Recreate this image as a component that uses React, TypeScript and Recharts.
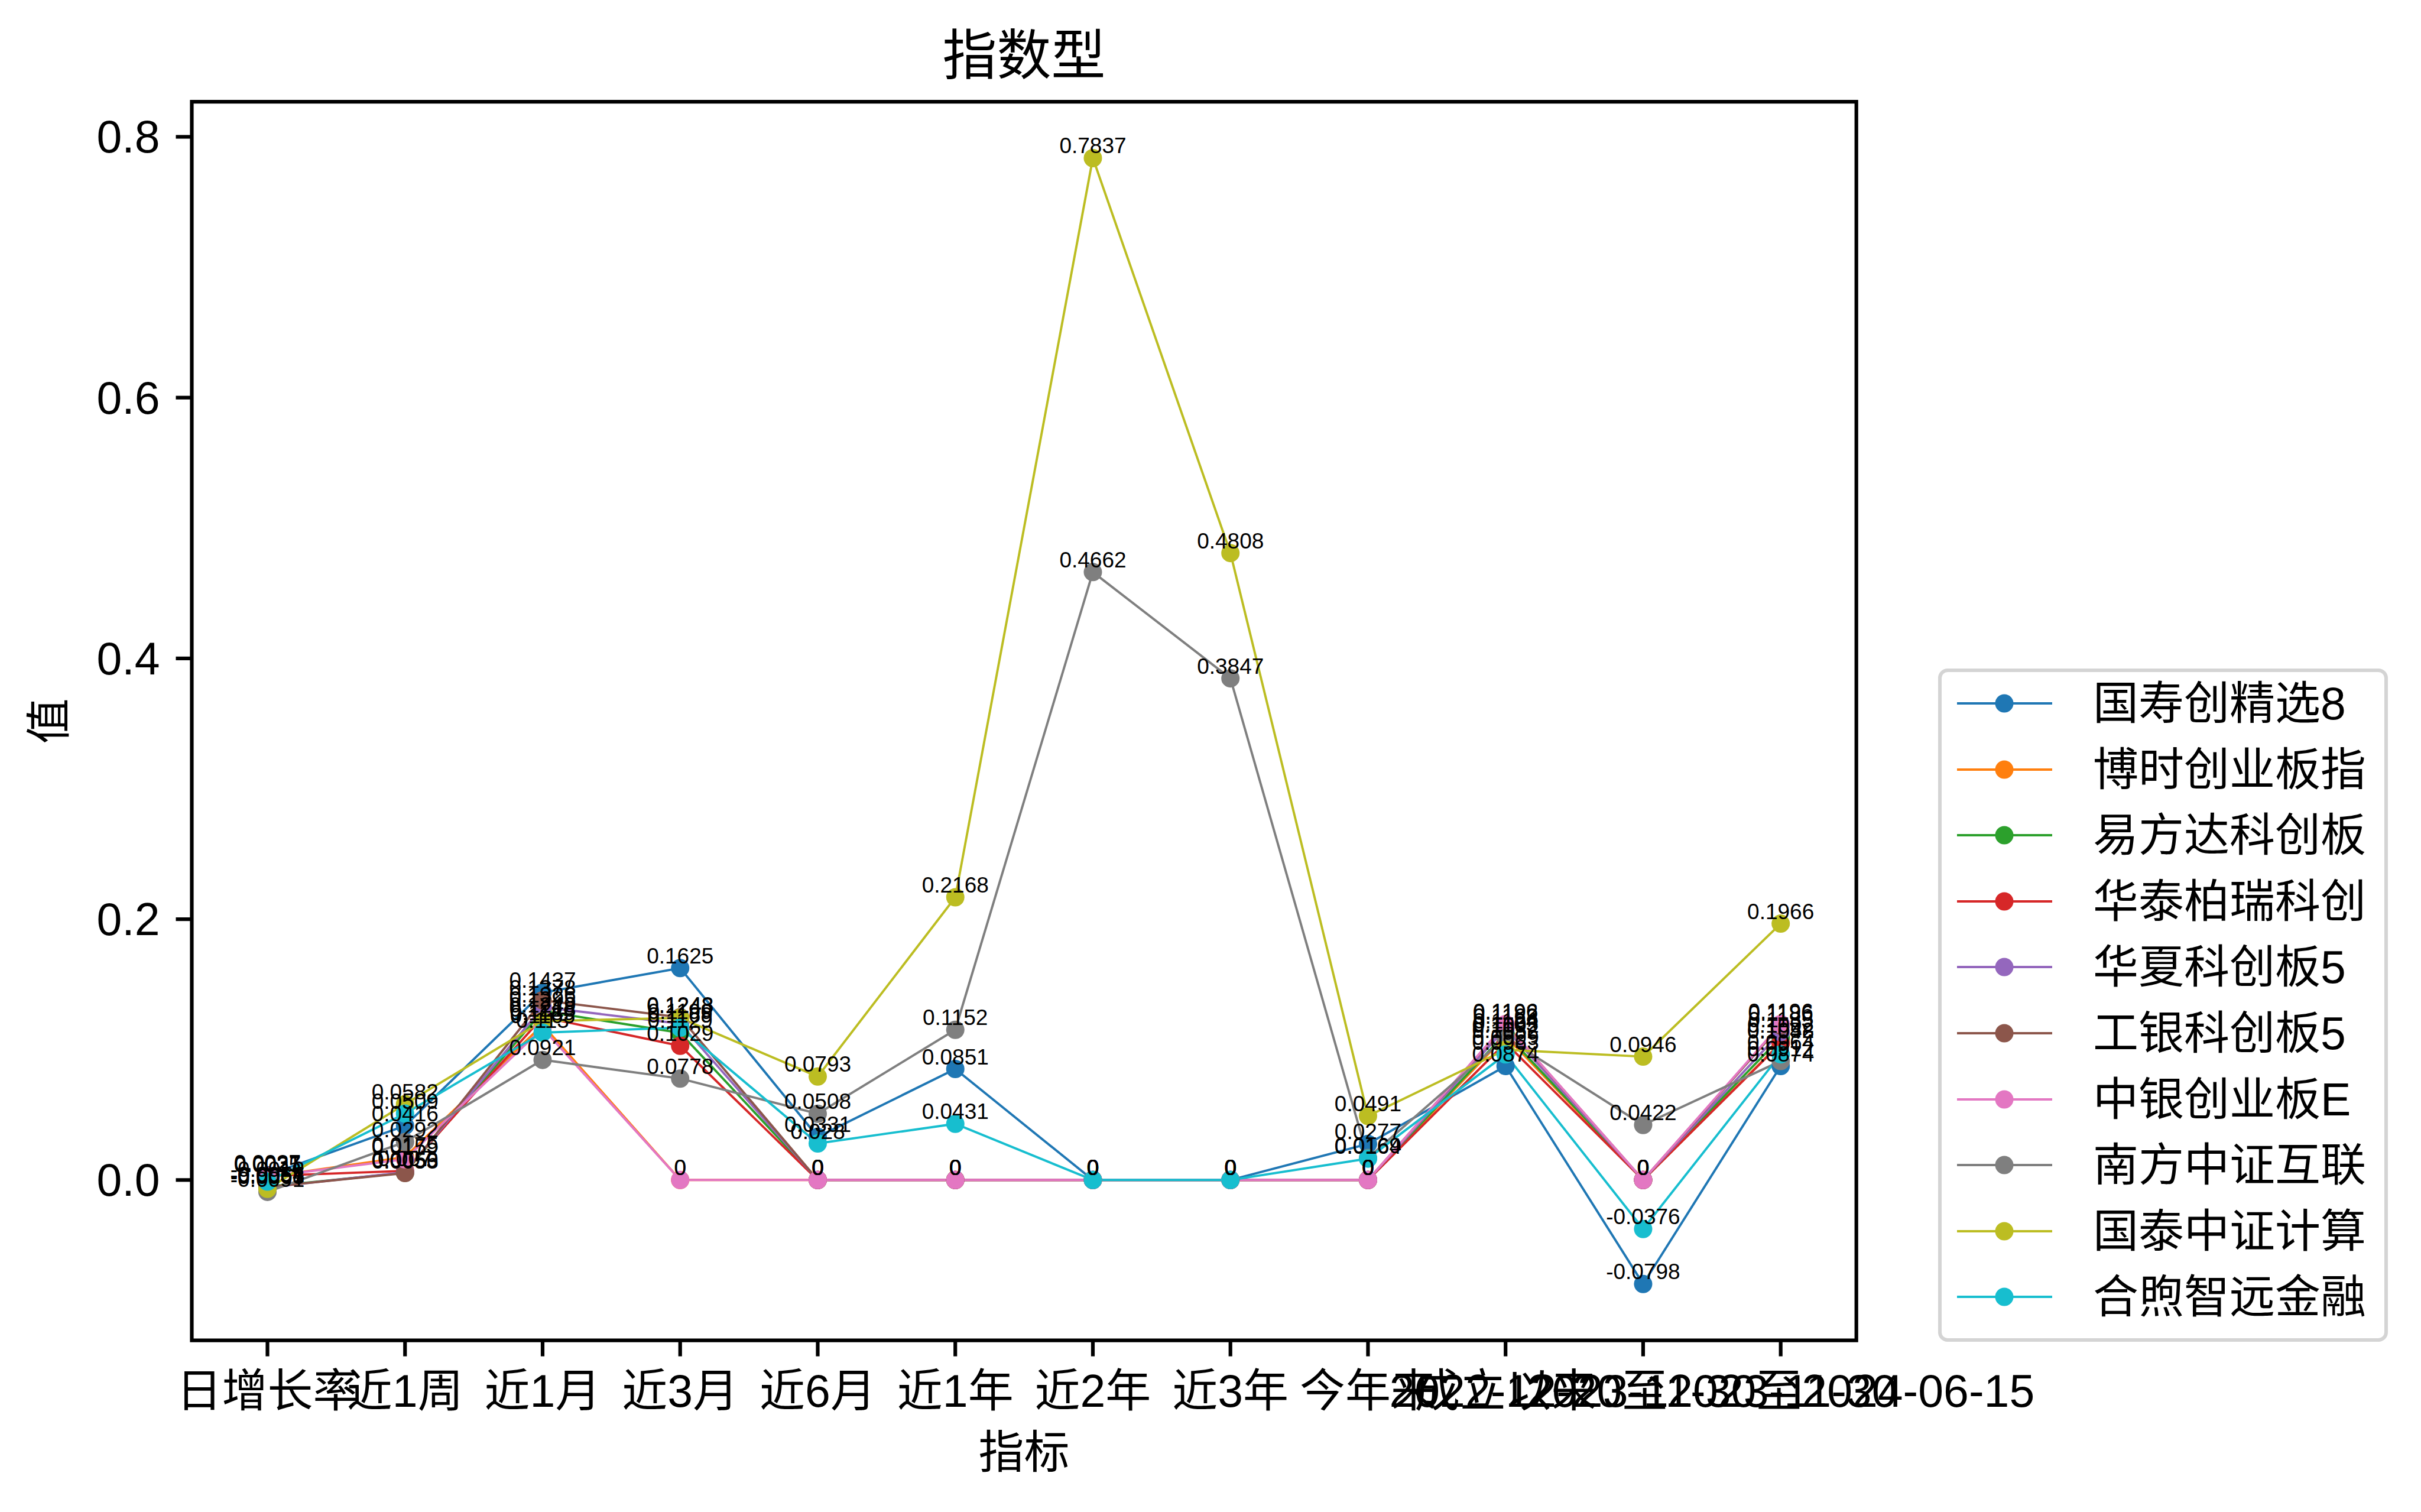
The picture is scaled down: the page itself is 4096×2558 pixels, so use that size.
import { LineChart, Line, XAxis, YAxis, Legend, LabelList, ReferenceArea } from "recharts";

const categories = [
  "日增长率",
  "近1周",
  "近1月",
  "近3月",
  "近6月",
  "近1年",
  "近2年",
  "近3年",
  "今年来",
  "成立以来",
  "2022-12-20至2023-11-30",
  "2023-11-30至2024-06-15",
];

const seriesNames = [
  "国寿创精选8",
  "博时创业板指",
  "易方达科创板",
  "华泰柏瑞科创",
  "华夏科创板5",
  "工银科创板5",
  "中银创业板E",
  "南方中证互联",
  "国泰中证计算",
  "合煦智远金融",
];

const colors = [
  "#1f77b4",
  "#ff7f0e",
  "#2ca02c",
  "#d62728",
  "#9467bd",
  "#8c564b",
  "#e377c2",
  "#7f7f7f",
  "#bcbd22",
  "#17becf",
];

const guoshou = [0.0037, 0.0416, 0.1437, 0.1625, 0.0331, 0.0851, 0, 0, 0.0277, 0.0874, -0.0798, 0.0874];
const boshi = [0.0025, 0.0175, 0.1189, 0, 0, 0, 0, 0, 0, 0.1105, 0, 0.1052];
const yifangda = [-0.0051, 0.0056, 0.1295, 0.1129, 0, 0, 0, 0, 0, 0.1124, 0, 0.1092];
const huatai = [0.0031, 0.007, 0.1249, 0.1029, 0, 0, 0, 0, 0, 0.1052, 0, 0.1048];
const huaxia = [-0.0057, 0.0059, 0.1326, 0.1199, 0, 0, 0, 0, 0, 0.1163, 0, 0.1135];
const gongyin = [-0.0054, 0.0053, 0.1378, 0.1248, 0, 0, 0, 0, 0, 0.1192, 0, 0.1186];
const zhongyin = [0.0027, 0.0159, 0.1165, 0, 0, 0, 0, 0, 0, 0.1196, 0, 0.1196];
const nanfang = [-0.0091, 0.0292, 0.0921, 0.0778, 0.0508, 0.1152, 0.4662, 0.3847, 0.0169, 0.1092, 0.0422, 0.0912];
const guotai = [-0.0068, 0.0582, 0.1218, 0.1243, 0.0793, 0.2168, 0.7837, 0.4808, 0.0491, 0.0999, 0.0946, 0.1966];
const hexu = [-0.0012, 0.0509, 0.113, 0.1169, 0.028, 0.0431, 0, 0, 0.0164, 0.0963, -0.0376, 0.0964];

const seriesValues = [guoshou, boshi, yifangda, huatai, huaxia, gongyin, zhongyin, nanfang, guotai, hexu];

const yTicks = [0, 0.2, 0.4, 0.6, 0.8];

const FONT = '"Liberation Sans", Arial, "Noto Sans CJK SC", sans-serif';

const W = 4096;
const H = 2558;
const plotLeft = 324.5;
const plotRight = 3140.7;
const plotTop = 172.2;
const plotBottom = 2267.6;

// matplotlib-style 5% margins
const allVals = seriesValues.flat();
const yMin = Math.min(...allVals);
const yMax = Math.max(...allVals);
const yPad = (yMax - yMin) * 0.05;
const yDomain = [yMin - yPad, yMax + yPad];
const xDomain = [-0.55, categories.length - 1 + 0.55];

const data = categories.map((c, i) => {
  const row: any = { idx: i, name: c };
  seriesValues.forEach((vals, k) => {
    row[`s${k}`] = vals[i];
  });
  return row;
});

const XTick = (props: any) => {
  const { x, y, payload } = props;
  return (
    <text x={x} y={y + 58} textAnchor="middle" fontSize={77} fontFamily={FONT} fill="#000">
      {categories[payload.value]}
    </text>
  );
};

const YTick = (props: any) => {
  const { x, y, payload } = props;
  return (
    <text x={x} y={y + 27} textAnchor="end" fontSize={77} fontFamily={FONT} fill="#000">
      {Number(payload.value).toFixed(1)}
    </text>
  );
};

const renderValue = (props: any) => {
  const x = props.x ?? props.viewBox?.x;
  const y = props.y ?? props.viewBox?.y;
  if (x == null || y == null) return null;
  return (
    <text x={x} y={y - 8} textAnchor="middle" fontSize={37} fontFamily={FONT} fill="#000">
      {String(props.value)}
    </text>
  );
};

const renderLegend = () => (
  <div
    style={{
      position: "relative",
      width: 761,
      height: 1139,
      boxSizing: "border-box",
      border: "6px solid #d4d4d4",
      borderRadius: 16,
      background: "rgba(255,255,255,0.8)",
      fontFamily: FONT,
    }}
  >
    {seriesNames.map((name, i) => (
      <div key={name} style={{ position: "absolute", left: 0, top: 59 + i * 111.6 - 6 - 50, height: 100, width: 750 }}>
        <svg width={220} height={100} style={{ position: "absolute", left: 26, top: 0 }}>
          <line x1={0} y1={50} x2={161} y2={50} stroke={colors[i]} strokeWidth={3.9} />
          <circle cx={80} cy={50} r={15.5} fill={colors[i]} />
        </svg>
        <span
          style={{
            position: "absolute",
            left: 256,
            top: 0,
            lineHeight: "100px",
            fontSize: 77,
            whiteSpace: "nowrap",
            color: "#000",
          }}
        >
          {name}
        </span>
      </div>
    ))}
  </div>
);

export default function App() {
  return (
    <div style={{ position: "absolute", left: 0, top: 0, width: W, height: H, background: "#fff" }}>
      <div
        style={{
          position: "absolute",
          left: (plotLeft + plotRight) / 2 - 600,
          width: 1200,
          top: 46,
          lineHeight: "96px",
          fontSize: 92,
          textAlign: "center",
          fontFamily: FONT,
          color: "#000",
        }}
      >
        指数型
      </div>
      <LineChart
        width={W}
        height={H}
        data={data}
        margin={{ top: plotTop, right: W - plotRight, bottom: 0, left: 0 }}
      >
        <XAxis
          dataKey="idx"
          type="number"
          domain={xDomain}
          allowDataOverflow
          ticks={categories.map((_, i) => i)}
          interval={0}
          height={H - plotBottom}
          axisLine={false}
          tickSize={27}
          tickMargin={27}
          tickLine={{ stroke: "#000", strokeWidth: 6.2 }}
          tick={<XTick />}
          label={{
            content: (p: any) => {
              const vb = p.viewBox || {};
              return (
                <text
                  x={vb.x + vb.width / 2}
                  y={2484}
                  textAnchor="middle"
                  fontSize={77}
                  fontFamily={FONT}
                  fill="#000"
                >
                  指标
                </text>
              );
            },
          }}
        />
        <YAxis
          type="number"
          domain={yDomain}
          allowDataOverflow
          ticks={yTicks}
          width={plotLeft}
          axisLine={false}
          tickSize={27}
          tickMargin={27}
          tickLine={{ stroke: "#000", strokeWidth: 6.2 }}
          tick={<YTick />}
          label={{
            content: (p: any) => {
              const vb = p.viewBox || {};
              const cy = vb.y + vb.height / 2;
              return (
                <text
                  x={110}
                  y={cy}
                  textAnchor="middle"
                  fontSize={77}
                  fontFamily={FONT}
                  fill="#000"
                  transform={`rotate(-90, 110, ${cy})`}
                >
                  值
                </text>
              );
            },
          }}
        />
        <ReferenceArea
          x1={xDomain[0]}
          x2={xDomain[1]}
          y1={yDomain[0]}
          y2={yDomain[1]}
          fill="none"
          stroke="#000"
          strokeWidth={6.2}
          ifOverflow="visible"
        />
        {seriesNames.map((name, k) => (
          <Line
            key={name}
            name={name}
            dataKey={`s${k}`}
            stroke={colors[k]}
            strokeWidth={3.9}
            dot={{ r: 15.5, fill: colors[k], stroke: "none", strokeWidth: 0 }}
            activeDot={false}
            isAnimationActive={false}
          />
        ))}
        {seriesNames.map((name, k) => (
          <Line
            key={`lbl-${name}`}
            dataKey={`s${k}`}
            stroke="none"
            dot={false}
            activeDot={false}
            legendType="none"
            isAnimationActive={false}
          >
            <LabelList dataKey={`s${k}`} content={renderValue} />
          </Line>
        ))}
        <Legend
          layout="vertical"
          align="center"
          verticalAlign="middle"
          content={renderLegend}
          wrapperStyle={{ left: 3279, top: 1131, width: 761, height: 1139 }}
        />
      </LineChart>
    </div>
  );
}
